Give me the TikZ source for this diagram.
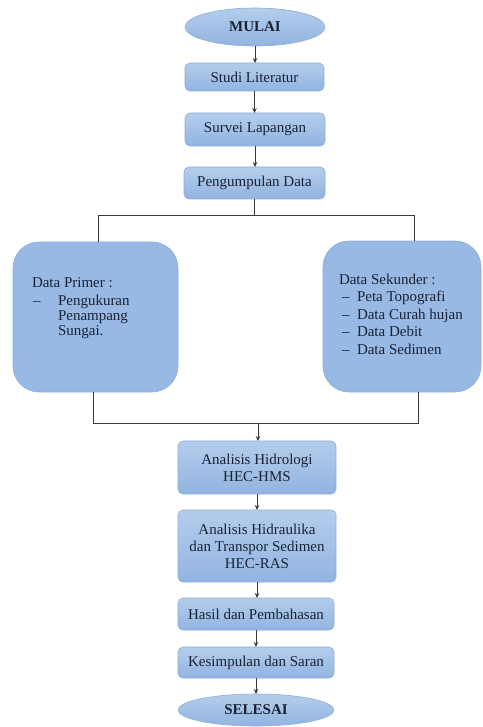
\documentclass[tikz,border=0pt]{standalone}
\usepackage{fontspec}
\setmainfont{Liberation Serif}
\usetikzlibrary{shapes.geometric,arrows.meta}
\definecolor{boxtop}{HTML}{B4CDEC}
\definecolor{boxbot}{HTML}{92B4E1}
\definecolor{boxline}{HTML}{8CACD9}
\definecolor{bigfill}{HTML}{98B9E4}
\definecolor{lincol}{HTML}{3A3A3A}
\definecolor{txtcol}{HTML}{1B2233}
\tikzset{
  every node/.style={font=\fontsize{15}{17}\selectfont, text=txtcol, outer sep=0pt, inner sep=0pt},
  stepbox/.style={draw=boxline, line width=0.6pt, rounded corners=5pt, top color=boxtop, bottom color=boxbot, align=center},
  termin/.style={ellipse, draw=boxline, line width=0.6pt, top color=boxtop, bottom color=boxbot, font=\fontsize{15}{17}\selectfont\bfseries},
  bigbox/.style={draw=boxline, line width=0.6pt, rounded corners=26pt, fill=bigfill},
  conn/.style={draw=lincol, line width=0.9pt},
  arr/.style={conn, -{Stealth[length=5pt,width=4.5pt]}},
  lbl/.style={anchor=base west}
}
\begin{document}
\begin{tikzpicture}[x=1pt,y=-1pt]
\useasboundingbox (0,0) rectangle (482,727);
% top chain
\node[termin, minimum width=140pt, minimum height=38pt] (mulai) at (255,27) {MULAI};
\node[stepbox, minimum width=139pt, minimum height=28pt] (studi) at (254.5,77) {Studi Literatur};
\node[stepbox, minimum width=140pt, minimum height=33pt] (survei) at (255,129.5) {Survei Lapangan};
\node[stepbox, minimum width=141pt, minimum height=32pt] (pd) at (254.5,183) {Pengumpulan Data};
% big boxes
\node[bigbox, minimum width=165pt, minimum height=150pt] (lb) at (95.5,317) {};
\node[bigbox, minimum width=158pt, minimum height=151pt] (rb) at (402,316.5) {};
% left text
\node[lbl] (lt0) at (32,287) {Data Primer :};
\node[lbl] (ld1) at (33,305) {–};
\node[lbl] (lt1) at (58,305) {Pengukuran};
\node[lbl] (lt2) at (58,320) {Penampang};
\node[lbl] (lt3) at (58,335) {Sungai.};
% right text
\node[lbl] (rt0) at (339,284) {Data Sekunder :};
\node[lbl] (rd1) at (342,301.5) {–};
\node[lbl] (rt1) at (357,301.5) {Peta Topografi};
\node[lbl] (rd2) at (342,319) {–};
\node[lbl] (rt2) at (357,319) {Data Curah hujan};
\node[lbl] (rd3) at (342,336.5) {–};
\node[lbl] (rt3) at (357,336.5) {Data Debit};
\node[lbl] (rd4) at (342,354) {–};
\node[lbl] (rt4) at (357,354) {Data Sedimen};
% lower chain
\node[stepbox, minimum width=158pt, minimum height=53pt] (hid) at (257,467.5) {Analisis Hidrologi\\HEC-HMS};
\node[stepbox, minimum width=158pt, minimum height=72pt] (hra) at (257,546) {Analisis Hidraulika\\dan Transpor Sedimen\\HEC-RAS};
\node[stepbox, minimum width=156pt, minimum height=32pt] (hasil) at (256,614) {Hasil dan Pembahasan};
\node[stepbox, minimum width=156pt, minimum height=31pt] (kes) at (256,662.5) {Kesimpulan dan Saran};
\node[termin, minimum width=156pt, minimum height=32pt] (selesai) at (256,710) {SELESAI};
% coordinates
\coordinate (bc) at (254.5,215);
\coordinate (bl) at (98,215);
\coordinate (br) at (414,215);
\coordinate (ml) at (93,423);
\coordinate (mr) at (418,423);
\coordinate (mc) at (258,423);
% connectors
\draw[arr] (mulai.south) -- (mulai.south |- studi.north);
\draw[arr] (studi.south) -- (studi.south |- survei.north);
\draw[arr] (survei.south) -- (survei.south |- pd.north);
\draw[conn] (pd.south) -- (bc);
\draw[conn] (bl |- lb.north) -- (bl) -- (br) -- (br |- rb.north);
\draw[conn] (ml |- lb.south) -- (ml) -- (mr) -- (mr |- rb.south);
\draw[arr] (mc) -- (mc |- hid.north);
\draw[arr] (hid.south) -- (hid.south |- hra.north);
\draw[arr] (hra.south) -- (hra.south |- hasil.north);
\draw[arr] (hasil.south) -- (hasil.south |- kes.north);
\draw[arr] (kes.south) -- (kes.south |- selesai.north);
\end{tikzpicture}
\end{document}
